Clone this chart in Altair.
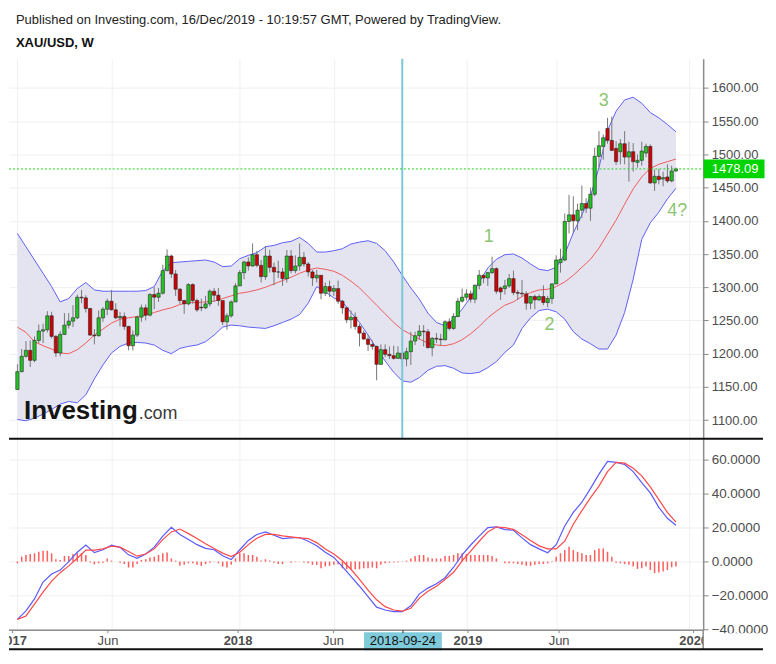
import altair as alt
import pandas as pd

# ---------------- data (weekly XAU/USD, week index 0 = 2017-01-02) ----------------
opens = [1146,1173,1196,1205,1190,1220,1234,1236,1257,1226,1201,1229,1243,1249,1254,1285,1284,1268,1228,1227,
         1254,1267,1279,1266,1254,1256,1241,1212,1228,1255,1269,1258,1289,1285,1291,1325,1347,1320,1297,1280,
         1275,1304,1280,1270,1269,1275,1294,1288,1280,1248,1257,1278,1302,1322,1338,1332,1349,1333,1316,1347,
         1330,1323,1323,1313,1347,1325,1332,1345,1335,1323,1314,1318,1291,1301,1294,1298,1279,1269,1251,1255,
         1241,1231,1222,1214,1211,1184,1206,1199,1197,1193,1201,1192,1203,1219,1227,1234,1233,1209,1223,1222,
         1221,1248,1238,1256,1279,1285,1290,1282,1303,1318,1314,1322,1328,1299,1298,1302,1313,1292,1291,1290,
         1276,1286,1281,1286,1277,1283,1305,1337,1341,1399,1409,1400,1416,1426,1419,1440,1497,1512,1539,1521,
         1509,1504,1516,1496,1504,1488,1491,1502,1512,1457,1467,1463,1466,1460,1475]
highs = [1184,1207,1219,1220,1226,1244,1245,1264,1263,1228,1234,1261,1261,1273,1289,1296,1288,1269,1237,1265,
         1270,1283,1296,1276,1263,1262,1242,1235,1257,1274,1274,1291,1300,1299,1334,1357,1349,1326,1299,1281,
         1306,1306,1283,1283,1287,1297,1299,1299,1280,1261,1280,1306,1326,1340,1345,1366,1355,1341,1362,1356,
         1337,1340,1329,1356,1356,1348,1366,1353,1338,1326,1326,1318,1307,1310,1303,1310,1281,1271,1265,1262,
         1245,1235,1228,1220,1212,1214,1214,1211,1212,1211,1204,1209,1233,1233,1243,1243,1237,1225,1231,1230,
         1250,1253,1261,1284,1298,1297,1295,1304,1326,1320,1323,1346,1330,1301,1311,1320,1325,1296,1311,1294,
         1287,1289,1289,1303,1287,1306,1348,1358,1411,1439,1437,1426,1453,1434,1450,1510,1535,1530,1555,1557,
         1520,1523,1535,1519,1517,1500,1519,1516,1515,1477,1478,1474,1485,1483,1480]
lows = [1146,1172,1194,1180,1187,1216,1216,1232,1223,1195,1196,1228,1238,1240,1252,1276,1262,1227,1214,1226,
        1248,1258,1265,1252,1241,1236,1205,1205,1225,1248,1250,1256,1267,1278,1289,1324,1314,1287,1275,1260,
        1273,1275,1263,1264,1267,1271,1278,1272,1243,1236,1254,1278,1302,1312,1325,1331,1330,1307,1311,1322,
        1303,1314,1302,1307,1321,1321,1325,1331,1316,1302,1307,1282,1287,1285,1287,1275,1260,1246,1238,1236,
        1211,1221,1204,1206,1160,1183,1195,1192,1191,1192,1180,1181,1183,1213,1221,1211,1208,1196,1216,1212,
        1220,1235,1236,1255,1277,1280,1277,1276,1297,1306,1302,1320,1290,1281,1289,1299,1288,1281,1286,1266,
        1267,1267,1279,1273,1270,1275,1305,1322,1339,1381,1381,1386,1404,1412,1400,1437,1480,1492,1516,1505,
        1484,1485,1485,1459,1474,1480,1483,1496,1456,1445,1455,1452,1457,1458,1474]
closes = [1173,1196,1205,1190,1220,1234,1236,1257,1226,1201,1229,1243,1249,1254,1285,1284,1268,1228,1227,1254,
          1267,1279,1266,1254,1256,1241,1212,1228,1255,1269,1258,1289,1285,1291,1325,1347,1320,1297,1280,1275,
          1304,1280,1266,1269,1275,1294,1288,1280,1248,1257,1278,1302,1322,1338,1332,1349,1333,1316,1347,1330,
          1323,1323,1313,1347,1325,1332,1345,1335,1323,1314,1318,1291,1301,1294,1298,1279,1269,1251,1255,1241,
          1231,1222,1214,1211,1184,1206,1199,1197,1193,1201,1192,1203,1219,1227,1234,1233,1209,1223,1222,1221,
          1248,1238,1256,1279,1285,1290,1282,1303,1318,1314,1322,1328,1294,1293,1302,1313,1292,1291,1290,1276,
          1286,1281,1286,1277,1283,1305,1341,1342,1399,1409,1400,1416,1426,1419,1440,1497,1513,1525,1521,1506,
          1489,1516,1496,1504,1489,1491,1505,1512,1457,1467,1462,1465,1460,1475,1478.09]

band_idx = list(range(0, 155, 2))
bb_upper = [1381,1361,1341,1321,1301,1278,1283,1298,1307,1296,1294,1294,1294,1294,1294,1295,1301,1325,1337,1338,
            1339,1340,1341,1338,1331,1332,1343,1348,1352,1361,1363,1367,1369,1375,1366,1353,1353,1355,1358,1365,
            1368,1370,1366,1355,1338,1318,1299,1282,1261,1247,1242,1252,1267,1285,1308,1329,1342,1349,1350,1344,
            1335,1327,1325,1330,1350,1382,1409,1437,1480,1536,1565,1582,1586,1577,1563,1555,1545,1534]
bb_mid = [1240,1232,1218,1212,1207,1201,1200,1206,1216,1228,1237,1246,1252,1254,1256,1258,1262,1266,1269,1274,
          1277,1277,1278,1279,1283,1287,1291,1293,1296,1300,1305,1310,1315,1321,1326,1329,1327,1324,1318,1309,
          1299,1286,1273,1260,1247,1236,1229,1222,1216,1213,1212,1215,1221,1230,1241,1254,1264,1273,1278,1286,
          1292,1296,1297,1301,1308,1318,1330,1342,1359,1380,1401,1425,1448,1466,1479,1485,1489,1493]
bb_lower = [1101,1099,1103,1109,1116,1124,1128,1126,1138,1162,1183,1201,1211,1216,1217,1216,1213,1205,1200,1208,
            1211,1213,1218,1228,1240,1243,1242,1240,1239,1238,1242,1247,1252,1259,1276,1301,1293,1284,1278,1262,
            1247,1228,1208,1189,1172,1159,1157,1164,1175,1181,1182,1178,1171,1170,1172,1179,1188,1202,1213,1238,
            1254,1265,1267,1263,1252,1233,1222,1215,1207,1207,1228,1262,1312,1372,1397,1413,1433,1449]

macd_line = [-34,-29,-22,-12,-7.3,-5,0,5.5,9.7,5.3,7,9.7,8.4,4,2,4.5,8.5,15,20.2,16,
             13,10,7.8,7,3.5,1.2,7,12.5,16,17.5,15.5,13.6,14,14.2,12,9.3,5.5,2.5,-3,-8.7,
             -14.5,-20.6,-26.8,-28.5,-29.5,-29.5,-26,-19,-15.6,-13,-9.5,-3.3,4,9.8,15,20,20.5,18.9,18.5,14,
             10,7.5,5.2,10,21,29,35,43,51.5,59,58.5,57.2,53,46.5,40.5,32,25.5,21.4]
signal_line = [-34,-32,-25,-18,-11.5,-6.5,-2.5,2,6.8,6.8,7.5,9.1,8.5,6,3.2,4.5,7.5,13,17.5,19.2,
               16.5,13.6,10.5,7.7,5,3,5.5,10,13.8,16,16,15.2,14.6,14,13.6,11.2,7.5,4.5,0.5,-4.5,
               -10.5,-16.8,-22.5,-26.5,-28.5,-29.2,-27.5,-21.5,-17.5,-14.5,-10.5,-6.3,0.5,6.2,12,17.5,20.4,20,19,15.8,
               12.5,9.3,7.5,7.5,12,22,30,37.5,44.5,53,58.5,58,55,50.5,44,36.5,29,23.3]
macd_hist = [-1,2.9,3.9,4.5,4.9,5.8,6.4,6.4,4.9,1.4,1.0,3.3,3.3,4.5,4.9,4.9,3.9,-0.5,-1.6,-1.0,
             -0.6,1.9,0.6,0.0,-0.6,-1.4,-3.5,-3.5,-1.4,1.0,1.4,2.5,2.9,3.9,4.9,5.4,1.9,0.6,-2.5,-1.9,
             -1.0,-1.0,-1.9,-2.5,-1.4,-0.6,0.2,-1.0,-2.9,-3.5,-1.9,1.9,4.9,4.9,3.9,3.9,2.9,0.6,1.4,0.6,
             -0.6,-1.4,-1.4,0.0,-0.6,0.2,0.1,-0.5,-1.0,-1.9,-1.9,-3.9,-2.9,-2.5,-1.9,-1.6,-3.9,-4.5,-4.5,-4.5,
             -4.5,-3.9,-3.9,-3.5,-3.9,-1.9,-1.0,-0.6,-0.5,-0.3,-0.2,0.6,1.9,3.3,3.9,3.9,2.5,1.9,1.9,1.9,
             3.3,3.3,3.9,4.9,4.9,4.5,3.9,3.9,3.9,3.9,3.9,3.3,1.9,0.0,-1.0,-1.0,-1.0,-1.4,-1.9,-2.5,
             -2.5,-1.9,-1.4,-1.4,-1.0,0.3,2.9,4.9,6.8,8.7,6.8,5.8,4.9,3.9,3.9,6.8,7.8,7.8,5.8,2.9,
             -0.6,-1.0,-1.4,-1.9,-2.9,-4.3,-3.9,-2.9,-4.9,-6.8,-6.4,-5.8,-4.9,-3.3,-2.9]

tick_idx = [0, 22, 52, 74, 105, 126, 157]
tick_lab = ["2017", "Jun", "2018", "Jun", "2019", "Jun", "2020"]
tick_bold = [True, False, True, False, True, False, True]
cursor_idx = 90
cursor_label = "2018-09-24"
price_ticks = [1100, 1150, 1200, 1250, 1300, 1350, 1400, 1450, 1500, 1550, 1600]
macd_ticks = [-40, -20, 0, 20, 40, 60]
wave_text = ["1", "2", "3", "4?"]
wave_idx = [110.2, 124.4, 137.1, 154.3]
wave_price = [1375, 1243, 1580, 1415]
header_line1 = "Published on Investing.com, 16/Dec/2019 - 10:19:57 GMT, Powered by TradingView."
header_line2 = "XAU/USD, W"

# ---------------- style / layout ----------------
FONT = "Liberation Sans, Arial, sans-serif"
GRID = "#f0f0f0"
AX = "#8c8c8c"
LAB = "#4d4d4d"
W = 696
H_HEAD, H_PRICE, H_MACD, H_DATE = 50, 381, 192, 19
RIGHT = 756

n = len(closes)
candles = pd.DataFrame({"i": list(range(n)), "open": opens, "high": highs, "low": lows, "close": closes})
bands = pd.DataFrame({"i": band_idx, "upper": bb_upper, "mid": bb_mid, "lower": bb_lower})
macd_df = pd.DataFrame({"i": band_idx, "macd": macd_line, "signal": signal_line})
hist_df = pd.DataFrame({"i": list(range(n)), "hist": macd_hist})
last_df = pd.DataFrame({"p": [closes[-1]], "t": [f"{closes[-1]:.2f}"]})
cursor_df = pd.DataFrame({"i": [cursor_idx], "t": [cursor_label]})
waves = pd.DataFrame({"i": wave_idx, "p": wave_price, "t": wave_text})
ticks_df = pd.DataFrame({"i": tick_idx, "t": tick_lab, "b": tick_bold})
one = pd.DataFrame({"a": [0]})

xs = alt.Scale(domain=[-0.8, 159.2], nice=False, zero=False)
xgrid = alt.Axis(values=tick_idx, grid=True, gridColor=GRID, labels=False, ticks=False,
                 domain=False, title=None)


def X(f="i"):
    return alt.X(f"{f}:Q", scale=xs, axis=xgrid)


def Xn(f="i"):
    return alt.X(f"{f}:Q", scale=xs, axis=None)


ps = alt.Scale(domain=[1072, 1644], nice=False, zero=False)
price_axis = alt.Axis(orient="right", values=price_ticks, format=".2f", grid=True, gridColor=GRID,
                      domainColor=AX, domainWidth=1.5, tickColor=AX, tickSize=5, labelColor=LAB,
                      labelFont=FONT, labelFontSize=13, labelPadding=3, title=None)


def YP(f):
    return alt.Y(f"{f}:Q", scale=ps, axis=price_axis)


ms = alt.Scale(domain=[-40.4, 72.4], nice=False, zero=False)
macd_axis = alt.Axis(orient="right", values=macd_ticks, format=".4f", grid=True, gridColor=GRID,
                     domainColor=AX, domainWidth=1.5, tickColor=AX, tickSize=5, labelColor=LAB,
                     labelFont=FONT, labelFontSize=13.5, labelPadding=3, title=None)


def YM(f):
    return alt.Y(f"{f}:Q", scale=ms, axis=macd_axis)


# ---------------- header ----------------
header = alt.layer(
    alt.Chart(one).mark_text(align="left", baseline="alphabetic", fontSize=13, font=FONT, color="#222",
                             text=header_line1).encode(x=alt.value(7), y=alt.value(15)),
    alt.Chart(one).mark_text(align="left", baseline="alphabetic", fontSize=13, font=FONT, fontWeight="bold",
                             color="#111", text=header_line2).encode(x=alt.value(7), y=alt.value(38)),
).properties(width=W, height=H_HEAD)

# ---------------- price panel ----------------
area = alt.Chart(bands).mark_area(color="#e3e4f0", opacity=1).encode(x=X(), y=YP("upper"), y2="lower:Q")
up_l = alt.Chart(bands).mark_line(color="#5f5ff5", strokeWidth=1).encode(x=X(), y=YP("upper"))
lo_l = alt.Chart(bands).mark_line(color="#5f5ff5", strokeWidth=1).encode(x=X(), y=YP("lower"))
mid_l = alt.Chart(bands).mark_line(color="#f05a5a", strokeWidth=1).encode(x=X(), y=YP("mid"))
wick = alt.Chart(candles).mark_rule(color="#777777", strokeWidth=1).encode(x=X(), y=YP("low"), y2="high:Q")
body = alt.Chart(candles).mark_bar(size=3.3, stroke="#2a2a2a", strokeWidth=0.6).encode(
    x=X(), y=YP("open"), y2="close:Q",
    fill=alt.condition("datum.close >= datum.open", alt.value("#22c422"), alt.value("#d00000")))
cursor = alt.Chart(cursor_df).mark_rule(color="#7cc8da", strokeWidth=2).encode(
    x=X(), y=alt.value(0), y2=alt.value(H_PRICE))
dotted = alt.Chart(last_df).mark_rule(color="#1fd01f", strokeWidth=1, strokeDash=[2, 2]).encode(
    y=YP("p"), x=alt.value(0), x2=alt.value(W))
box = alt.Chart(last_df).mark_point(shape="M-1,-0.306H1V0.306H-1Z", size=61 * 61, filled=True,
                                    fill="#00d400", opacity=1, strokeWidth=0).encode(
    x=alt.value(727), y=YP("p"))
box_t = alt.Chart(last_df).mark_text(color="white", fontSize=13, font=FONT, align="center",
                                     baseline="middle").encode(x=alt.value(728), y=YP("p"), text="t:N")
wave_t = alt.Chart(waves).mark_text(color="#8cc470", fontSize=18, font=FONT, align="center",
                                    baseline="middle").encode(x=X(), y=YP("p"), text="t:N")
logo1 = alt.Chart(one).mark_text(align="left", baseline="alphabetic", fontSize=26, fontWeight="bold",
                                 font=FONT, color="#151515", text="Investing").encode(
    x=alt.value(15), y=alt.value(361))
logo2 = alt.Chart(one).mark_text(align="left", baseline="alphabetic", fontSize=18, font=FONT,
                                 color="#3a3a3a", text=".com").encode(x=alt.value(130), y=alt.value(361))

price = alt.layer(area, up_l, lo_l, mid_l, wick, body, cursor, dotted, box, box_t, wave_t, logo1, logo2
                  ).properties(width=W, height=H_PRICE)

# ---------------- MACD panel ----------------
hist = alt.Chart(hist_df).mark_bar(size=1.5, color="#ff5c5c").encode(x=X(), y=YM("hist"), y2=alt.datum(0))
m_l = alt.Chart(macd_df).mark_line(color="#5a5aff", strokeWidth=1.2).encode(x=X(), y=YM("macd"))
s_l = alt.Chart(macd_df).mark_line(color="#ff4848", strokeWidth=1.2).encode(x=X(), y=YM("signal"))
sep = alt.Chart(one).mark_rule(color="#111111", strokeWidth=2).encode(
    x=alt.value(0), x2=alt.value(RIGHT), y=alt.value(0))
macd = alt.layer(hist, m_l, s_l, sep).properties(width=W, height=H_MACD)

# ---------------- date strip ----------------
cover = alt.Chart(one).mark_rect(color="white").encode(
    x=alt.value(697), x2=alt.value(RIGHT), y=alt.value(3), y2=alt.value(H_DATE - 1))
axline = alt.Chart(one).mark_rule(color=AX, strokeWidth=1.5).encode(
    x=alt.value(0), x2=alt.value(W), y=alt.value(0))
tickm = alt.Chart(ticks_df).mark_rule(color=AX, strokeWidth=1).encode(
    x=Xn(), y=alt.value(0), y2=alt.value(3))
cbox = alt.Chart(cursor_df).mark_point(shape="M-1,-0.23H1V0.23H-1Z", size=78 * 78, filled=True,
                                       fill="#80cbdb", opacity=1, strokeWidth=0).encode(
    x=Xn(), y=alt.value(11))
ctick = alt.Chart(cursor_df).mark_rule(color="#333", strokeWidth=1).encode(
    x=Xn(), y=alt.value(0), y2=alt.value(3))
lab_b = alt.Chart(ticks_df).transform_filter("datum.b").mark_text(
    clip=True, fontSize=13, fontWeight="bold", font=FONT, color=LAB, baseline="middle").encode(
    x=Xn(), y=alt.value(11), text="t:N")
lab_r = alt.Chart(ticks_df).transform_filter("!datum.b").mark_text(
    clip=True, fontSize=13, font=FONT, color=LAB, baseline="middle").encode(
    x=Xn(), y=alt.value(11), text="t:N")
clab = alt.Chart(cursor_df).mark_text(fontSize=13, font=FONT, color="#111", baseline="middle").encode(
    x=Xn(), y=alt.value(11), text="t:N")
rdom = alt.Chart(one).mark_rule(color=AX, strokeWidth=1.5).encode(
    x=alt.value(W), y=alt.value(0), y2=alt.value(H_DATE))
bline = alt.Chart(one).mark_rule(color="#111111", strokeWidth=2).encode(
    x=alt.value(0), x2=alt.value(RIGHT), y=alt.value(H_DATE))
date = alt.layer(cover, axline, tickm, cbox, ctick, lab_b, lab_r, clab, rdom, bline
                 ).properties(width=W, height=H_DATE)

chart = alt.vconcat(header, price, macd, date, spacing=0, bounds="flush").properties(
    padding=0
).configure_view(strokeWidth=0).configure_axis(labelFont=FONT)

chart.save("out.html", embed_options={"renderer": "svg", "actions": False})
